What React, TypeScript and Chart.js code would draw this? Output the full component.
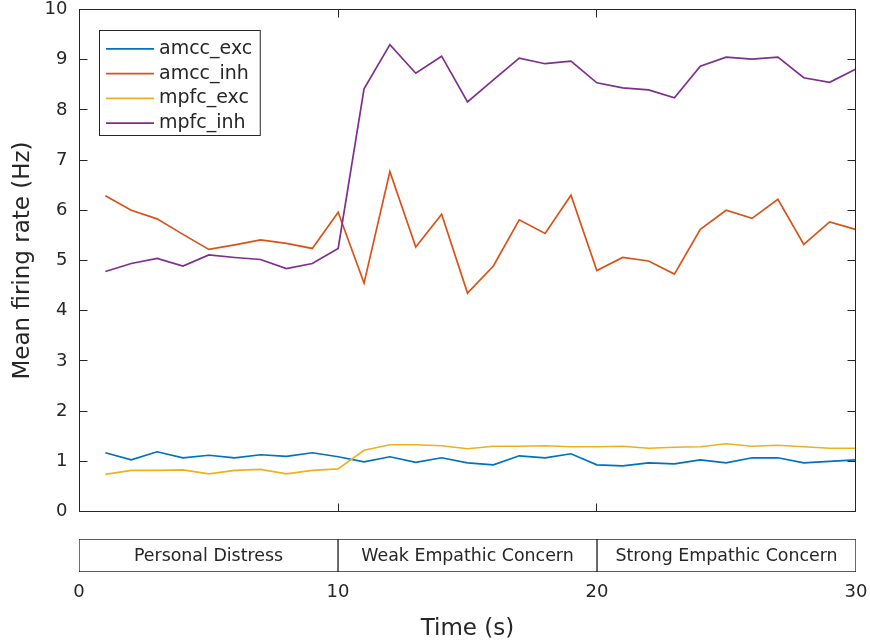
import React, { useEffect, useRef } from 'react';
import { Chart, registerables } from 'chart.js';

Chart.register(...registerables);

const FONT = '"DejaVu Sans", "Liberation Sans", sans-serif';
const INK = '#262626';

// ---- data ----
const timeSec = [1, 2, 3, 4, 5, 6, 7, 8, 9, 10, 11, 12, 13, 14, 15, 16, 17, 18, 19, 20, 21, 22, 23, 24, 25, 26, 27, 28, 29, 30];
const amccExc = [1.17, 1.03, 1.19, 1.07, 1.12, 1.07, 1.13, 1.10, 1.17, 1.09, 0.99, 1.09, 0.98, 1.07, 0.97, 0.93, 1.11, 1.07, 1.15, 0.93, 0.91, 0.97, 0.95, 1.03, 0.97, 1.07, 1.07, 0.97, 1.00, 1.03];
const amccInh = [6.29, 6.00, 5.83, 5.52, 5.22, 5.31, 5.41, 5.34, 5.24, 5.96, 4.55, 6.77, 5.27, 5.92, 4.35, 4.89, 5.81, 5.54, 6.30, 4.80, 5.06, 4.99, 4.73, 5.62, 6.00, 5.84, 6.22, 5.32, 5.77, 5.62];
const mpfcExc = [0.74, 0.82, 0.82, 0.83, 0.75, 0.82, 0.84, 0.75, 0.82, 0.85, 1.22, 1.33, 1.33, 1.31, 1.25, 1.30, 1.30, 1.31, 1.29, 1.29, 1.30, 1.26, 1.28, 1.29, 1.35, 1.30, 1.32, 1.29, 1.26, 1.26];
const mpfcInh = [4.78, 4.94, 5.04, 4.89, 5.11, 5.06, 5.02, 4.84, 4.94, 5.24, 8.42, 9.30, 8.73, 9.07, 8.16, 8.60, 9.03, 8.92, 8.97, 8.54, 8.44, 8.40, 8.24, 8.87, 9.05, 9.01, 9.05, 8.64, 8.55, 8.81];

const seriesNames = ['amcc_exc', 'amcc_inh', 'mpfc_exc', 'mpfc_inh'];
const seriesValues = [amccExc, amccInh, mpfcExc, mpfcInh];
const seriesColors = ['#0072BD', '#D95319', '#EDB120', '#7E2F8E'];

const yTickValues = [0, 1, 2, 3, 4, 5, 6, 7, 8, 9, 10];
const xTickValues = [0, 10, 20, 30];

const phaseNames = ['Personal Distress', 'Weak Empathic Concern', 'Strong Empathic Concern'];
const phaseStart = [0, 10, 20];
const phaseEnd = [10, 20, 30];

const crisp = (p: number) => Math.round(p - 0.5) + 0.5;

const frameAndTicksPlugin = {
  id: 'frameAndTicks',
  afterDatasetsDraw(chart: any) {
    const { ctx, chartArea } = chart;
    const { left, right, top, bottom } = chartArea;
    const xs = chart.scales.x;
    const ys = chart.scales.y;
    const tl = 8;
    ctx.save();
    ctx.strokeStyle = INK;
    ctx.lineWidth = 1;
    ctx.beginPath();
    yTickValues.forEach((v) => {
      const py = crisp(ys.getPixelForValue(v));
      ctx.moveTo(left, py);
      ctx.lineTo(left + tl, py);
      ctx.moveTo(right, py);
      ctx.lineTo(right - tl, py);
    });
    xTickValues.forEach((v) => {
      const px = crisp(xs.getPixelForValue(v));
      ctx.moveTo(px, top);
      ctx.lineTo(px, top + tl);
      ctx.moveTo(px, bottom);
      ctx.lineTo(px, bottom - tl);
    });
    ctx.stroke();
    ctx.strokeRect(left, top, right - left, bottom - top);
    ctx.restore();
  },
  afterDraw(chart: any) {
    const { ctx, chartArea } = chart;
    const ds = chart.data.datasets;
    const boxL = chartArea.left + 20;
    const boxT = chartArea.top + 21;
    const rowH = 24.8;
    const firstRow = 18.3;
    const lineLen = 48;
    const lineGap = 6.5;
    const textGap = 5;
    ctx.save();
    ctx.font = `19px ${FONT}`;
    let maxW = 0;
    ds.forEach((d: any) => { maxW = Math.max(maxW, ctx.measureText(d.label).width); });
    const boxW = lineGap + lineLen + textGap + maxW + 8;
    const boxH = firstRow + rowH * (ds.length - 1) + 12.3;
    ctx.fillStyle = '#ffffff';
    ctx.fillRect(boxL, boxT, boxW, boxH);
    ctx.strokeStyle = INK;
    ctx.lineWidth = 1;
    ctx.strokeRect(boxL, boxT, boxW, boxH);
    ds.forEach((d: any, i: number) => {
      const cy = boxT + firstRow + i * rowH;
      ctx.strokeStyle = d.borderColor;
      ctx.lineWidth = d.borderWidth;
      ctx.beginPath();
      ctx.moveTo(boxL + lineGap, cy);
      ctx.lineTo(boxL + lineGap + lineLen, cy);
      ctx.stroke();
      ctx.fillStyle = INK;
      ctx.textBaseline = 'middle';
      ctx.textAlign = 'left';
      ctx.fillText(d.label, boxL + lineGap + lineLen + textGap, cy);
    });
    ctx.restore();
  },
};

const phaseLabelPlugin = {
  id: 'phaseLabels',
  afterDatasetsDraw(chart: any) {
    const { ctx } = chart;
    ctx.save();
    ctx.font = `17.4px ${FONT}`;
    ctx.fillStyle = INK;
    ctx.textAlign = 'center';
    ctx.textBaseline = 'middle';
    chart.data.datasets.forEach((d: any, i: number) => {
      const el = chart.getDatasetMeta(i).data[0];
      if (!el) return;
      const { x, base, y } = el.getProps(['x', 'base', 'y'], true);
      ctx.fillText(d.label, (x + base) / 2, y + 0.5);
    });
    ctx.restore();
  },
};

export default function App() {
  const mainRef = useRef<HTMLCanvasElement>(null);
  const phaseRef = useRef<HTMLCanvasElement>(null);

  useEffect(() => {
    const main = new Chart(mainRef.current as HTMLCanvasElement, {
      type: 'line',
      data: {
        datasets: seriesNames.map((name, i) => ({
          label: name,
          data: timeSec.map((t, k) => ({ x: t, y: seriesValues[i][k] })),
          borderColor: seriesColors[i],
          backgroundColor: seriesColors[i],
          borderWidth: 1.7,
          pointRadius: 0,
          tension: 0,
          fill: false,
          order: seriesNames.length - i,
        })),
      },
      options: {
        responsive: false,
        animation: false,
        devicePixelRatio: 1,
        layout: { padding: { left: 0, right: 14.5, top: 9.5, bottom: 18.5 } },
        scales: {
          x: { type: 'linear', min: 0, max: 30, display: false },
          y: {
            type: 'linear',
            min: 0,
            max: 10,
            position: 'left',
            afterBuildTicks: (s: any) => { s.ticks = yTickValues.map((v) => ({ value: v })); },
            ticks: { color: INK, font: { family: FONT, size: 18, lineHeight: 1 }, padding: 12 },
            grid: { display: false, drawTicks: false },
            border: { display: false },
            title: {
              display: true,
              text: 'Mean firing rate (Hz)',
              color: INK,
              font: { family: FONT, size: 23 },
              padding: { top: 9, bottom: 0 },
            },
            afterFit: (s: any) => { s.width = 79.5; s.paddingTop = 0; s.paddingBottom = 0; },
          },
        },
        plugins: { legend: { display: false }, tooltip: { enabled: false } },
      } as any,
      plugins: [frameAndTicksPlugin],
    });

    const phase = new Chart(phaseRef.current as HTMLCanvasElement, {
      type: 'bar',
      data: {
        labels: ['phase'],
        datasets: phaseNames.map((name, i) => ({
          label: name,
          data: [[phaseStart[i], phaseEnd[i]]],
          backgroundColor: '#ffffff',
          borderColor: INK,
          borderWidth: 1,
          borderSkipped: false,
          barPercentage: 1,
          categoryPercentage: 1,
          grouped: false,
        })),
      } as any,
      options: {
        indexAxis: 'y',
        responsive: false,
        animation: false,
        devicePixelRatio: 1,
        layout: { padding: { left: 79, right: 14, top: 9, bottom: 0 } },
        scales: {
          x: {
            type: 'linear',
            min: 0,
            max: 30,
            afterBuildTicks: (s: any) => { s.ticks = xTickValues.map((v) => ({ value: v })); },
            ticks: { color: INK, font: { family: FONT, size: 18 }, padding: 9.8, maxRotation: 0, autoSkip: false },
            grid: { display: false, drawTicks: false },
            border: { display: false },
            title: {
              display: true,
              text: 'Time (s)',
              color: INK,
              font: { family: FONT, size: 23, lineHeight: 1 },
              padding: { top: 2, bottom: 0 },
            },
            afterFit: (s: any) => { s.height = 69; s.paddingLeft = 0; s.paddingRight = 0; },
          },
          y: { type: 'category', display: false },
        },
        plugins: { legend: { display: false }, tooltip: { enabled: false } },
      } as any,
      plugins: [phaseLabelPlugin],
    });

    return () => {
      main.destroy();
      phase.destroy();
    };
  }, []);

  return (
    <div style={{ position: 'absolute', left: 0, top: 0, width: 870, height: 641, background: '#ffffff' }}>
      <canvas ref={mainRef} width={870} height={530} style={{ position: 'absolute', left: 0, top: 0, width: 870, height: 530 }} />
      <canvas ref={phaseRef} width={870} height={111} style={{ position: 'absolute', left: 0, top: 530, width: 870, height: 111 }} />
    </div>
  );
}
